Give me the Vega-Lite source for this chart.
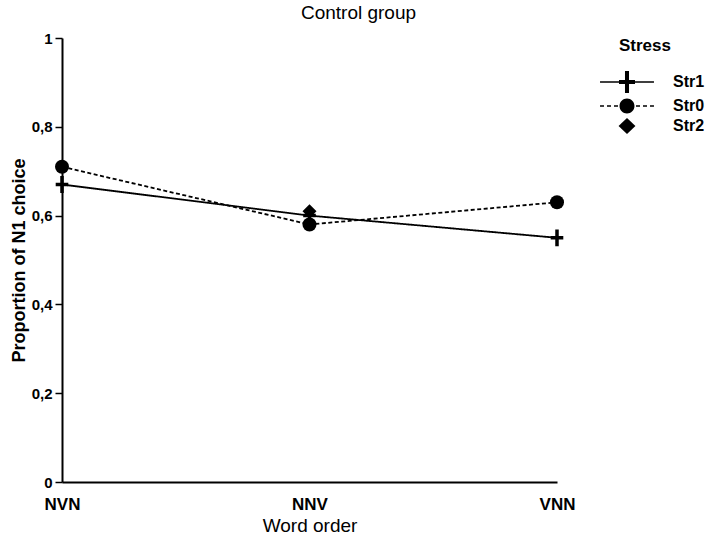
{
  "$schema": "https://vega.github.io/schema/vega-lite/v6.json",
  "autosize": {"type": "none"},
  "padding": {"left": 62, "top": 38, "right": 151, "bottom": 56},
  "width": 495,
  "height": 444,
  "title": {"text": "Control group", "fontSize": 19, "fontWeight": "normal", "anchor": "middle", "dx": 49, "dy": 22, "offset": 15, "baseline": "alphabetic", "color": "black"},
  "config": {
    "font": "Liberation Sans, Arial, sans-serif",
    "view": {"stroke": null},
    "axis": {"labelColor": "black", "titleColor": "black", "domainColor": "black", "tickColor": "black", "grid": false}
  },
  "data": {"values": [
    {"order": "NVN", "stress": "Str1", "p": 0.67},
    {"order": "NNV", "stress": "Str1", "p": 0.60},
    {"order": "VNN", "stress": "Str1", "p": 0.55},
    {"order": "NVN", "stress": "Str0", "p": 0.71},
    {"order": "NNV", "stress": "Str0", "p": 0.58},
    {"order": "VNN", "stress": "Str0", "p": 0.63},
    {"order": "NNV", "stress": "Str2", "p": 0.61}
  ]},
  "encoding": {
    "x": {"field": "order", "type": "nominal", "sort": ["NVN", "NNV", "VNN"],
      "scale": {"type": "point", "padding": 0},
      "axis": {"title": "Word order", "labelAngle": 0, "ticks": false, "domainWidth": 2, "labelPadding": 14, "labelFontSize": 17, "labelFontWeight": "bold", "titleFontSize": 19, "titleFontWeight": "normal", "titlePadding": 4}},
    "y": {"field": "p", "type": "quantitative",
      "scale": {"domain": [0, 1], "nice": false, "zero": true},
      "axis": {"title": "Proportion of N1 choice", "values": [0, 0.2, 0.4, 0.6, 0.8, 1], "labelExpr": "replace(format(datum.value, '.1~f'), '.', ',')", "tickSize": 7, "tickWidth": 1.5, "domainWidth": 2, "labelPadding": 3, "labelFontSize": 15, "labelFontWeight": "bold", "titleFontSize": 18, "titleFontWeight": "bold", "titlePadding": 3}}
  },
  "layer": [
    {
      "transform": [{"filter": "datum.stress !== 'Str2'"}],
      "mark": {"type": "line", "color": "black", "strokeWidth": 1.8},
      "encoding": {
        "strokeDash": {"field": "stress", "type": "nominal", "scale": {"domain": ["Str1", "Str0"], "range": [[1, 0], [4, 2.5]]}, "legend": null}
      }
    },
    {
      "mark": {"type": "point", "filled": true, "color": "black", "opacity": 1, "size": 196},
      "encoding": {
        "shape": {"field": "stress", "type": "nominal",
          "scale": {"domain": ["Str1", "Str0", "Str2"], "range": ["M-0.25,-1.2H0.25V-0.25H0.9V0.25H0.25V1.2H-0.25V0.25H-0.9V-0.25H-0.25Z", "circle", "diamond"]},
          "legend": null}
      }
    },
    {
      "mark": {"type": "point", "filled": true, "color": "black", "opacity": 0, "size": 169},
      "encoding": {
        "shape": {"field": "stress", "type": "nominal",
          "scale": {"domain": ["Str1", "Str0", "Str2"], "range": [
            "M-4.15,-0.12H4.15V0.12H-4.15ZM-0.31,-1.7H0.31V-0.31H1.23V0.31H0.31V1.7H-0.31V0.31H-1.23V-0.31H-0.31Z",
            "M-4.15,-0.12H-3.54V0.12H-4.15ZM-3.08,-0.12H-2.46V0.12H-3.08ZM-2,-0.12H-1.38V0.12H-2ZM1.38,-0.12H2V0.12H1.38ZM2.46,-0.12H3.08V0.12H2.46ZM3.54,-0.12H4.15V0.12H3.54ZM-1.15,0A1.15,1.15 0 1,1 1.15,0A1.15,1.15 0 1,1 -1.15,0Z",
            "M0,-1.23L1.3,0L0,1.23L-1.3,0Z"]},
          "legend": {"title": "Stress", "titleFontSize": 17, "titleFontWeight": "bold", "titleColor": "black", "labelFontSize": 16, "labelFontWeight": "bold", "labelColor": "black", "offset": 58, "padding": 0, "symbolSize": 169, "symbolOpacity": 1, "symbolFillColor": "black", "symbolStrokeWidth": 0, "labelOffset": 38, "rowPadding": 4, "titlePadding": 19}}
      }
    }
  ],
  "resolve": {"scale": {"shape": "independent"}}
}
